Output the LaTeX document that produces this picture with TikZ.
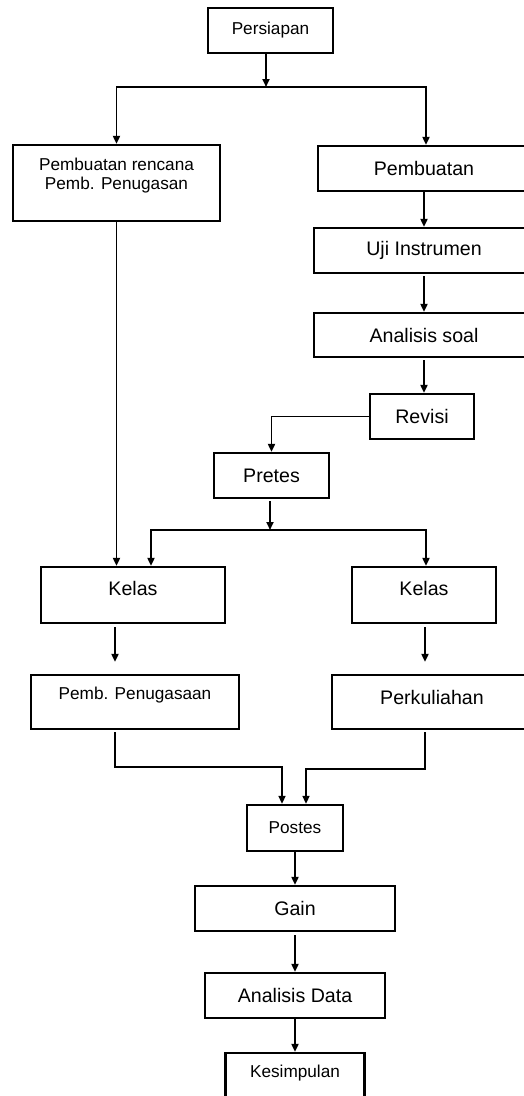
\documentclass[tikz,border=0pt]{standalone}
\usepackage{fontspec}
\setmainfont{Liberation Sans}
\usetikzlibrary{positioning, arrows.meta, calc}

\begin{document}
\begin{tikzpicture}[
  x=1pt, y=-1pt,
  every node/.style={font=\fontsize{19.6}{23}\selectfont},
  block/.style={draw, line width=2.3pt, inner sep=0pt, align=center,
    minimum height=45pt},
  sblock/.style={block, font=\fontsize{17.2}{20}\selectfont},
  txt/.style={inner sep=0pt, align=center},
  stxt/.style={txt, font=\fontsize{17.2}{20}\selectfont},
  arr/.style={-{Triangle[length=8pt, width=7pt]}, line width=1.9pt}
]
  \useasboundingbox (0,0) rectangle (524,1096);

  % Persiapan
  \node[sblock, minimum width=125pt] (prep) at (270.5,30.5) {Persiapan};

  % Left branch: rencana
  \node[block, minimum width=207pt, minimum height=76pt] (rencana) at (116.5,183) {};
  \node[stxt] at ([yshift=7pt]rencana.center) {Pembuatan rencana\\[-1pt]Pemb. Penugasan};

  % Right branch: instrumen
  \node[block, minimum width=212pt] (pemb) at (424,168.5) {Pembuatan};
  \node[block, minimum width=220pt] (uji) at (424,250.5) {Uji Instrumen};
  \node[block, minimum width=220pt, minimum height=44pt] (soal) at (424,335) {Analisis soal};
  \node[block, minimum width=104pt] (revisi) at (422,416.5) {Revisi};

  % Pretes
  \node[block, minimum width=115pt] (pretes) at (271.5,475.5) {Pretes};

  % Kelas
  \node[block, minimum width=184pt, minimum height=56pt] (kelasA) at (133,595) {};
  \node[txt] at ([yshift=7pt]kelasA.center) {Kelas};
  \node[block, minimum width=144pt, minimum height=56pt] (kelasB) at (424,595) {};
  \node[txt] at ([yshift=7pt]kelasB.center) {Kelas};

  % Perlakuan
  \node[block, minimum width=208pt, minimum height=54pt] (penug) at (135,702) {};
  \node[stxt] at ([yshift=7pt]penug.center) {Pemb. Penugasaan};
  \node[block, minimum width=200pt, minimum height=54pt] (kuliah) at (432,702) {};
  \node[txt] at ([yshift=5pt]kuliah.center) {Perkuliahan};

  % Postes sampai Kesimpulan
  \node[sblock, minimum width=96pt, minimum height=46pt] (postes) at (295,828) {Postes};
  \node[block, minimum width=200pt] (gain) at (295,908.5) {Gain};
  \node[block, minimum width=180pt] (data) at (295,995.5) {Analisis Data};
  \node[sblock, minimum width=139pt] (simpul) at (295,1075.5) {};
  \node[stxt] at (295,1073) {Kesimpulan};

  % Arrows
  \coordinate (s1) at (266,87);
  \draw[arr] (prep.south -| s1) -- (s1);
  \draw[arr] (s1) -| (rencana.north);
  \draw[arr] (s1) -| ([xshift=2pt]pemb.north);
  \draw[arr] (pemb.south) -- (pemb.south |- uji.north);
  \draw[arr, shorten <=2pt] (uji.south) -- (uji.south |- soal.north);
  \draw[arr, shorten <=2pt] (soal.south) -- (soal.south |- revisi.north);
  \draw[arr] (revisi.west) -| (pretes.north);

  \coordinate (s2) at (270,530);
  \draw[arr, shorten <=2pt] (pretes.south -| s2) -- (s2);
  \draw[arr] (s2) -| ([xshift=18pt]kelasA.north);
  \draw[arr] (s2) -| ([xshift=2pt]kelasB.north);
  \draw[arr] (rencana.south) -- (rencana.south |- kelasA.north);

  \draw[arr, shorten <=3pt, shorten >=12pt]
    ([xshift=-18pt]kelasA.south) -- ([xshift=-18pt]kelasA.south |- penug.north);
  \draw[arr, shorten <=3pt, shorten >=12pt]
    ([xshift=1pt]kelasB.south) -- ([xshift=1pt]kelasB.south |- kuliah.north);

  \coordinate (m1) at (282,767);
  \coordinate (m2) at (306,769);
  \draw[arr, line width=1.6pt, shorten <=2pt]
    ([xshift=-20pt]penug.south) |- (m1) -- (m1 |- postes.north);
  \draw[arr, line width=1.6pt, shorten <=2pt]
    ([xshift=-7pt]kuliah.south) |- (m2) -- (m2 |- postes.north);

  \draw[arr] (postes.south) -- (postes.south |- gain.north);
  \draw[arr, shorten <=3pt] (gain.south) -- (gain.south |- data.north);
  \draw[arr] (data.south) -- (data.south |- simpul.north);
\end{tikzpicture}
\end{document}
